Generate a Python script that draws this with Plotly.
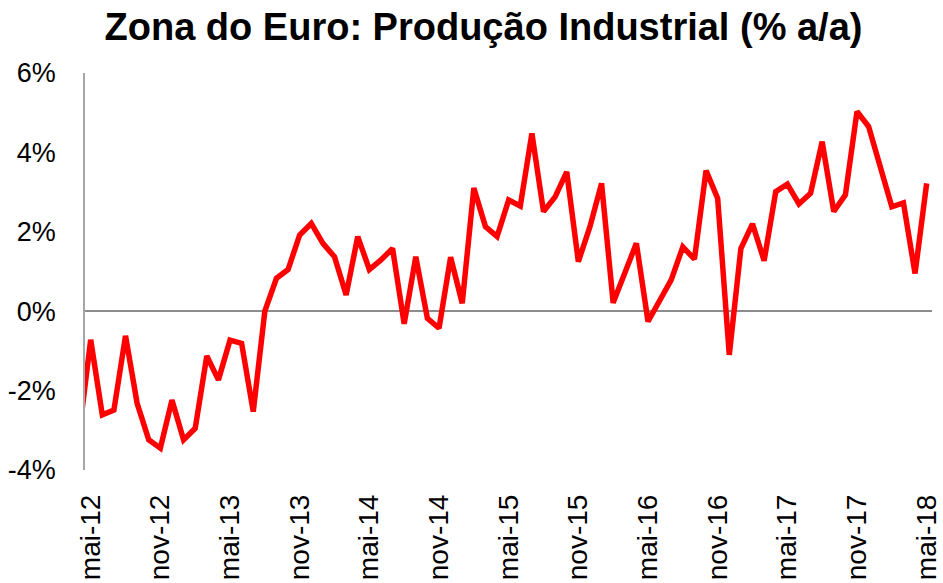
"""Zona do Euro: producao industrial, variacao anual (%)."""

import plotly.graph_objects as go

MESES = ["jan", "fev", "mar", "abr", "mai", "jun", "jul", "ago", "set", "out", "nov", "dez"]

# abr-12 .. mai-18 (abr-12 sits just outside the visible range)
periods = [f"{MESES[(3 + i) % 12]}-{12 + (3 + i) // 12}" for i in range(74)]

producao_aa = [
    -3.1,
    -0.72, -2.61, -2.49, -0.62, -2.32, -3.24, -3.45, -2.24, -3.24, -2.95, -1.13, -1.73,
    -0.73, -0.81, -2.53, 0.00, 0.83, 1.05, 1.92, 2.21, 1.71, 1.37, 0.41, 1.88,
    1.05, 1.29, 1.58, -0.32, 1.37, -0.18, -0.43, 1.36, 0.20, 3.10, 2.13, 1.88,
    2.80, 2.65, 4.48, 2.51, 2.88, 3.51, 1.25, 2.13, 3.22, 0.21, 0.95, 1.71,
    -0.26, 0.28, 0.79, 1.62, 1.31, 3.54, 2.84, -1.10, 1.58, 2.20, 1.27, 3.01,
    3.20, 2.70, 2.97, 4.27, 2.51, 2.93, 5.03, 4.65, 3.64, 2.63, 2.73, 0.95,
    3.22,
]

x_ticks = ["mai-12", "nov-12", "mai-13", "nov-13", "mai-14", "nov-14", "mai-15",
           "nov-15", "mai-16", "nov-16", "mai-17", "nov-17", "mai-18"]
y_ticks = [-4, -2, 0, 2, 4, 6]
y_labels = ["-4%", "-2%", "0%", "2%", "4%", "6%"]

FONT = "Liberation Sans, Arial, sans-serif"

fig = go.Figure(go.Scatter(
    x=periods, y=producao_aa, mode="lines",
    line={"color": "#FF0000", "width": 5.5},
    hoverinfo="skip",
))

fig.update_layout(
    width=943, height=583,
    margin={"l": 85, "r": 11, "t": 73, "b": 113, "autoexpand": False},
    paper_bgcolor="white", plot_bgcolor="white",
    showlegend=False,
    font={"family": FONT, "size": 26, "color": "black"},
    title={
        "text": "<b>Zona do Euro: Produção Industrial (% a/a)</b>",
        "font": {"family": FONT, "size": 38, "color": "black"},
        "x": 483.5 / 943, "xanchor": "center", "xref": "container",
        "y": 1 - 27 / 583, "yanchor": "middle", "yref": "container",
    },
)

fig.update_xaxes(
    type="category",
    range=[0.51, 73.46],
    tickmode="array", tickvals=x_ticks, ticktext=x_ticks,
    tickangle=-90,
    showgrid=False, showline=False, zeroline=False,
    ticks="", ticklabelstandoff=18, automargin=False,
    tickfont={"family": FONT, "size": 28},
)
fig.update_yaxes(
    range=[-4, 6],
    tickmode="array", tickvals=y_ticks, ticktext=y_labels,
    showgrid=False,
    showline=True, linecolor="#A6A6A6", linewidth=1.5,
    zeroline=True, zerolinecolor="#8C8C8C", zerolinewidth=2,
    ticks="", ticklabelstandoff=22, automargin=False,
    tickfont={"family": FONT, "size": 27},
)

# drop the page's default body margin so the figure sits at (0, 0)
fig.write_html(
    "out.html",
    config={"displayModeBar": False},
    post_script="document.body.style.margin = '0';",
)
